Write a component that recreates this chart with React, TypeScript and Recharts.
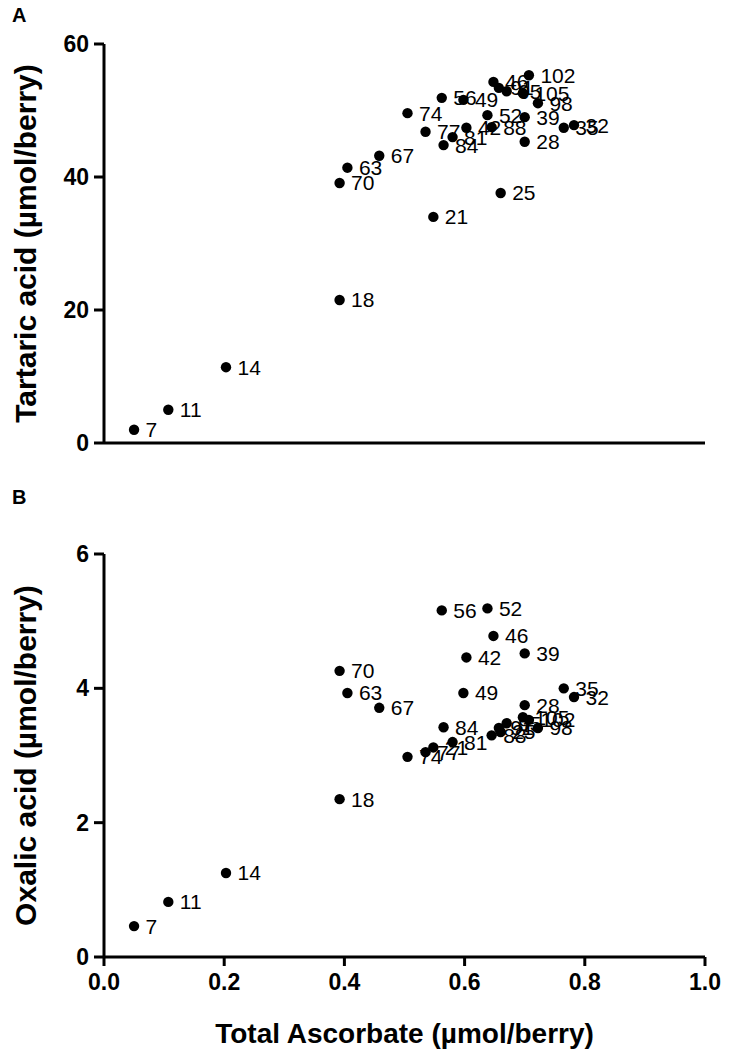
import { LabelList, Scatter, ScatterChart, XAxis, YAxis, Label } from "recharts"

// sampling day of each berry sample (used as point labels)
const days = [7, 11, 14, 18, 21, 25, 28, 32, 35, 39, 42, 46, 49, 52, 56, 63, 67, 70, 74, 77, 81, 84, 88, 91, 95, 98, 102, 105]

// total ascorbate, µmol/berry
const ascorbate = [
  0.05, 0.107, 0.203, 0.392, 0.548, 0.66, 0.7, 0.782, 0.765, 0.7, 0.603, 0.648, 0.598, 0.638,
  0.562, 0.405, 0.458, 0.392, 0.505, 0.535, 0.58, 0.565, 0.645, 0.657, 0.67, 0.722, 0.707, 0.697,
]

// tartaric acid, µmol/berry
const tartaric = [
  2.0, 5.0, 11.4, 21.5, 34.0, 37.6, 45.3, 47.8, 47.4, 49.0, 47.4, 54.3, 51.6, 49.3,
  51.9, 41.4, 43.2, 39.1, 49.6, 46.8, 46.0, 44.8, 47.5, 53.4, 52.9, 51.1, 55.3, 52.6,
]

// oxalic acid, µmol/berry
const oxalic = [
  0.46, 0.82, 1.25, 2.35, 3.12, 3.35, 3.75, 3.87, 4.0, 4.52, 4.46, 4.78, 3.93, 5.19,
  5.16, 3.93, 3.71, 4.26, 2.98, 3.05, 3.2, 3.42, 3.3, 3.41, 3.48, 3.41, 3.53, 3.57,
]

const xTicks = [0, 0.2, 0.4, 0.6, 0.8, 1.0]
const tartaricTicks = [0, 20, 40, 60]
const oxalicTicks = [0, 2, 4, 6]

const tartaricData = days.map((d, i) => ({ day: d, x: ascorbate[i], y: tartaric[i] }))
const oxalicData = days.map((d, i) => ({ day: d, x: ascorbate[i], y: oxalic[i] }))

const font = "'Liberation Sans', Arial, sans-serif"
const axisLine = { stroke: "#000", strokeWidth: 3 }
const tickText = { fill: "#000", fontSize: 23, fontWeight: "bold" }

const Dot = (props: any) => <circle cx={props.cx} cy={props.cy} r={5.2} fill="#000" />

function yTitle(text: string) {
  return (props: any) => {
    const vb = props.viewBox
    const cx = 25
    const cy = vb.y + vb.height / 2
    return (
      <text x={cx} y={cy} transform={`rotate(-90 ${cx} ${cy})`} textAnchor="middle" dominantBaseline="central"
        fontSize={30} fontWeight="bold" fill="#000">
        {text}
      </text>
    )
  }
}

function Panel({ data, ticks, max, title, showX, height, bottom }: any) {
  return (
    <ScatterChart width={739} height={height} margin={{ top: 44, right: 34, bottom: bottom, left: 34 }}>
      <XAxis
        type="number"
        dataKey="x"
        domain={[0, 1]}
        ticks={xTicks}
        tickFormatter={(v: number) => v.toFixed(1)}
        tick={showX ? tickText : false}
        tickSize={9}
        tickMargin={8}
        axisLine={axisLine}
        tickLine={axisLine}
        height={showX ? 80 : 30}
      >
        {showX && (
          <Label
            content={(props: any) => {
              const vb = props.viewBox
              return (
                <text x={vb.x + vb.width / 2} y={vb.y + 76} textAnchor="middle" dominantBaseline="central"
                  fontSize={28} fontWeight="bold" fill="#000">
                  Total Ascorbate (µmol/berry)
                </text>
              )
            }}
          />
        )}
      </XAxis>
      <YAxis
        type="number"
        dataKey="y"
        domain={[0, max]}
        ticks={ticks}
        tick={tickText}
        tickSize={10}
        tickMargin={5}
        axisLine={axisLine}
        tickLine={axisLine}
        width={70}
      >
        <Label content={yTitle(title)} />
      </YAxis>
      <Scatter data={data} shape={Dot} isAnimationActive={false}>
        <LabelList dataKey="day" position="right" offset={7} fill="#000" fontSize={21} />
      </Scatter>
    </ScatterChart>
  )
}

export default function App() {
  return (
    <div style={{ position: "absolute", left: 0, top: 0, width: 739, height: 1063, background: "#fff", fontFamily: font }}>
      <div style={{ position: "absolute", left: 12, top: 4, fontSize: 20, fontWeight: "bold" }}>A</div>
      <div style={{ position: "absolute", left: 12, top: 486, fontSize: 20, fontWeight: "bold" }}>B</div>
      <div style={{ position: "absolute", left: 0, top: 0 }}>
        <Panel data={tartaricData} ticks={tartaricTicks} max={60} title="Tartaric acid (µmol/berry)" showX={false} height={480} bottom={7} />
      </div>
      <div style={{ position: "absolute", left: 0, top: 510 }}>
        <Panel data={oxalicData} ticks={oxalicTicks} max={6} title="Oxalic acid (µmol/berry)" showX={true} height={553} bottom={26} />
      </div>
    </div>
  )
}
